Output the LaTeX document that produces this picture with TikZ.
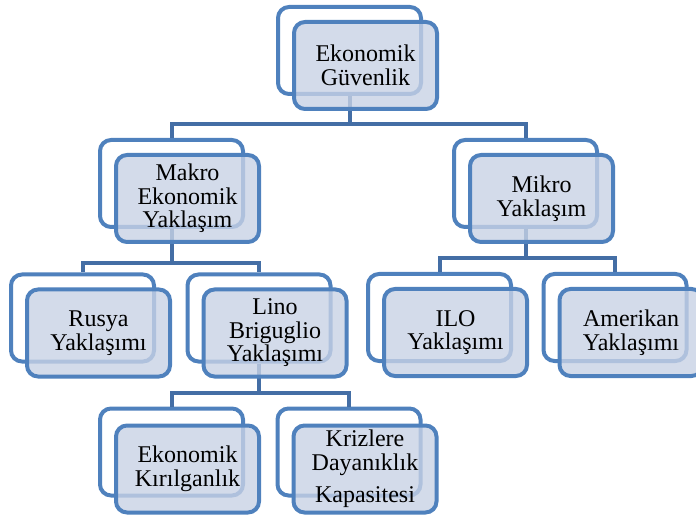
\documentclass[tikz,border=0pt]{standalone}
\usepackage{fontspec}
\setmainfont{Liberation Serif}
\definecolor{boxline}{RGB}{79,129,189}
\definecolor{conline}{RGB}{68,110,165}
\definecolor{boxfill}{RGB}{200,210,229}
\tikzset{
  backbox/.style={draw=boxline, line width=4pt, rounded corners=11pt, fill=white,
    minimum width=143pt, minimum height=87pt, inner sep=0pt},
  frontbox/.style={draw=boxline, line width=4pt, rounded corners=11pt, fill=boxfill,
    fill opacity=0.8,
    minimum width=143pt, minimum height=87pt, inner sep=0pt},
  boxtext/.style={align=center, inner sep=0pt, font=\fontsize{24}{23.5}\selectfont},
  conn/.style={draw=conline, line width=4pt}
}
\begin{document}
\begin{tikzpicture}[x=1pt,y=-1pt]
\useasboundingbox (0,0) rectangle (696,521);
% back boxes (centres)
\node[backbox] (topb)   at (349.5,50.5) {};
\node[backbox] (makrob) at (171.5,183.5) {};
\node[backbox] (mikrob) at (525.5,183.5) {};
\node[backbox] (rusb)   at (82.5,318) {};
\node[backbox] (linob)  at (259,318) {};
\node[backbox] (ilob)   at (439.5,317.5) {};
\node[backbox] (amerb)  at (615,317.5) {};
\node[backbox] (ekonb)  at (171.5,452) {};
\node[backbox] (krizb)  at (349,452) {};
% junction levels
\coordinate (j1) at (0,124);
\coordinate (j2) at (0,263);
\coordinate (j3) at (0,258);
\coordinate (j4) at (0,393);
% connectors
\draw[conn] (topb.south) -- (topb.south |- j1) -| (makrob.north);
\draw[conn] (topb.south |- j1) -| (mikrob.north);
\draw[conn] (makrob.south) -- (makrob.south |- j2) -| (rusb.north);
\draw[conn] (makrob.south |- j2) -| (linob.north);
\draw[conn] (mikrob.south) -- (mikrob.south |- j3) -| (ilob.north);
\draw[conn] (mikrob.south |- j3) -| (amerb.north);
\draw[conn] (linob.south) -- (linob.south |- j4) -| (ekonb.north);
\draw[conn] (linob.south |- j4) -| (krizb.north);
% front boxes
\node[frontbox] (topf)   at ([shift={(16,15)}]topb.center)   {};
\node[frontbox] (makrof) at ([shift={(16,15)}]makrob.center) {};
\node[frontbox] (mikrof) at ([shift={(16,15)}]mikrob.center) {};
\node[frontbox] (rusf)   at ([shift={(16,15)}]rusb.center)   {};
\node[frontbox] (linof)  at ([shift={(16,15)}]linob.center)  {};
\node[frontbox] (ilof)   at ([shift={(16,15)}]ilob.center)   {};
\node[frontbox] (amerf)  at ([shift={(16,15)}]amerb.center)  {};
\node[frontbox] (ekonf)  at ([shift={(16,17)}]ekonb.center)  {};
\node[frontbox] (krizf)  at ([shift={(16,17)}]krizb.center)  {};
% texts
\node[boxtext] (topt)   at (topf.center)   {Ekonomik\\Güvenlik};
\node[boxtext] (makrot) at (makrof.center) {Makro\\Ekonomik\\Yaklaşım};
\node[boxtext] (mikrot) at (mikrof.center) {Mikro\\Yaklaşım};
\node[boxtext] (rust)   at (rusf.center)   {Rusya\\Yaklaşımı};
\node[boxtext] (linot)  at (linof.center)  {Lino\\Briguglio\\Yaklaşımı};
\node[boxtext] (ilot)   at (ilof.center)   {ILO\\Yaklaşımı};
\node[boxtext] (amert)  at (amerf.center)  {Amerikan\\Yaklaşımı};
\node[boxtext] (ekont)  at (ekonf.center)  {Ekonomik\\Kırılganlık};
\node[boxtext] (krizt)  at (krizf.center)  {Krizlere\\Dayanıklık\\[9pt]Kapasitesi};
\end{tikzpicture}
\end{document}
